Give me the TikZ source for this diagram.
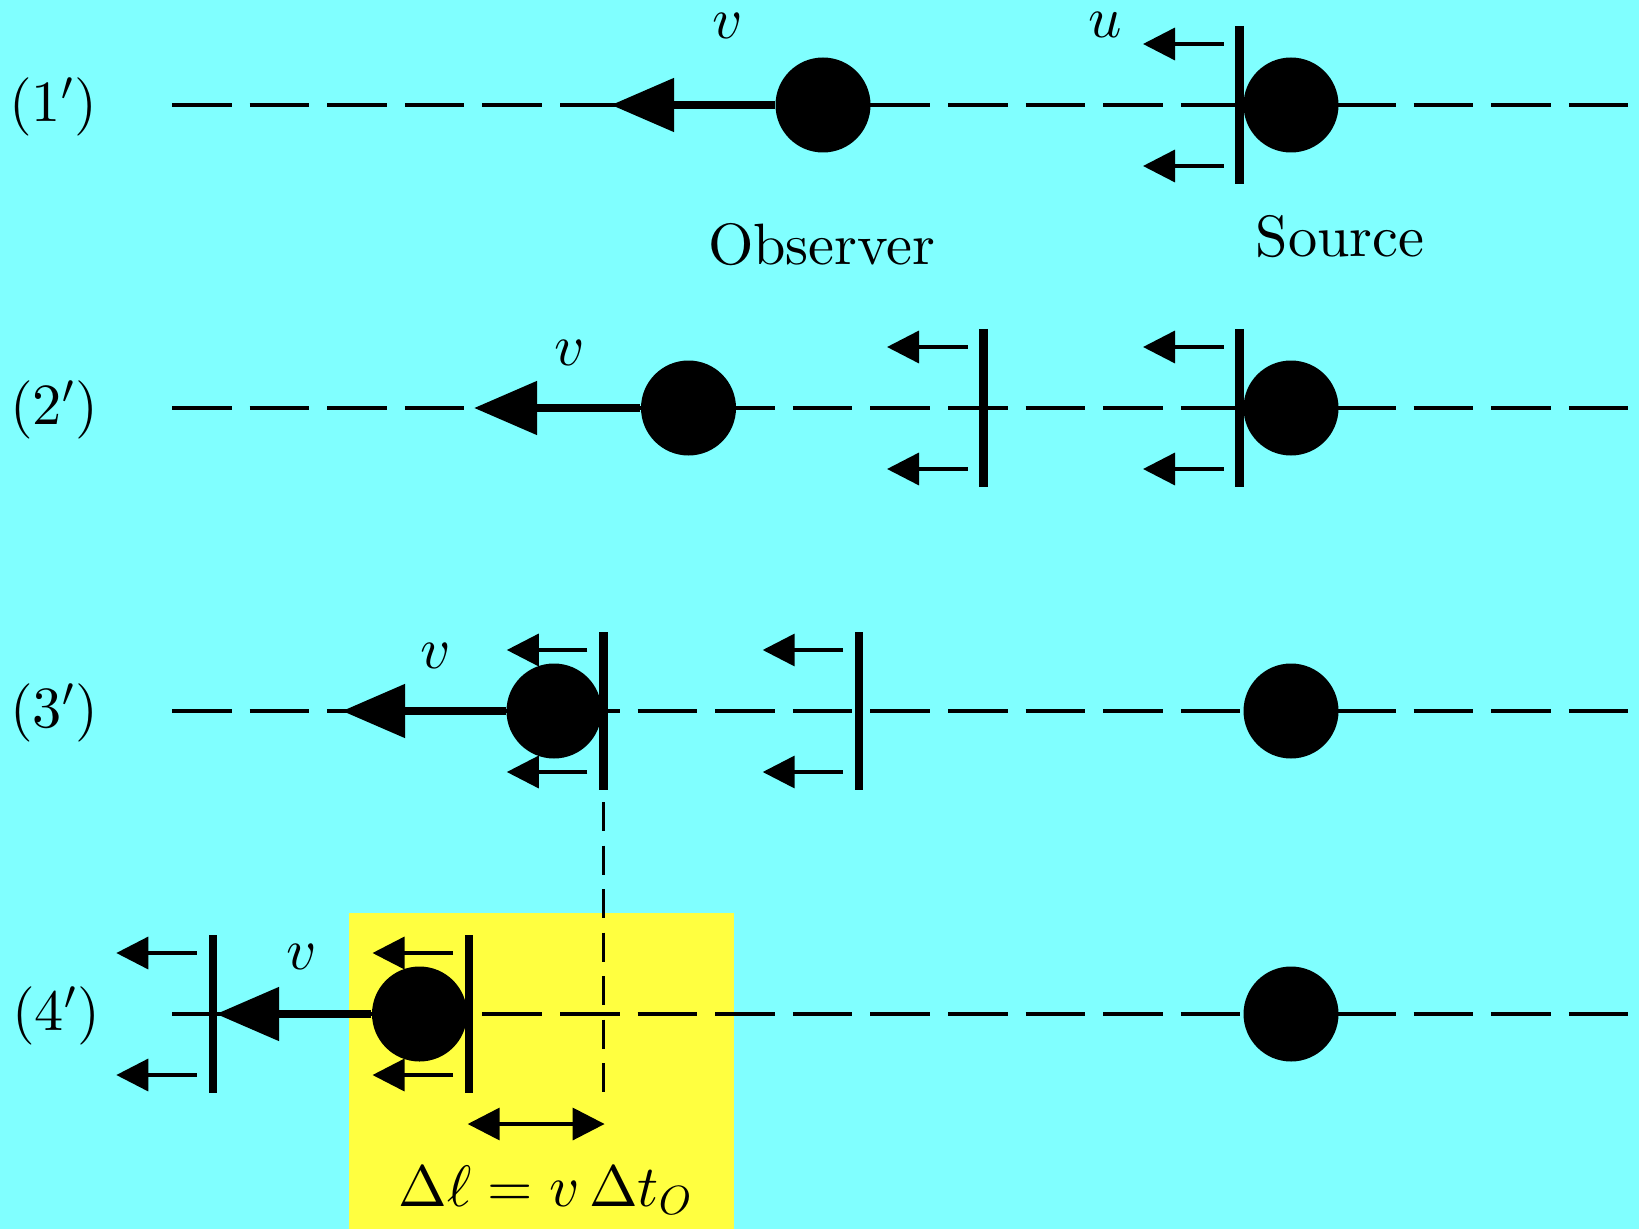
\documentclass[tikz,border=0pt]{standalone}
\usepackage{tikz}
\usetikzlibrary{calc,arrows.meta}
\DeclareFontShape{OT1}{cmr}{m}{n}{<->cmr10}{}
\DeclareFontShape{OML}{cmm}{m}{it}{<->cmmi10}{}
\DeclareFontShape{OMS}{cmsy}{m}{n}{<->cmsy10}{}
\definecolor{fond}{RGB}{128,255,255}
\definecolor{jaune}{RGB}{255,255,64}
\newcommand{\front}[3]{\coordinate (#1) at (#2, #3);
\draw[barre] ($(#1)+(0,-79)$) -- ($(#1)+(0,79)$);
\draw[petite] ($(#1)+(-16,-61)$) -- ($(#1)+(-96.5,-61)$);
\draw[petite] ($(#1)+(-16,61)$) -- ($(#1)+(-96.5,61)$)}

\begin{document}
\begin{tikzpicture}[x=0.1mm, y=-0.1mm,
                every node/.style={inner sep=1pt, font=\fontencoding{OT1}\fontfamily{cmr}\fontsize{16.6}{20}\selectfont},
                point/.style={circle, fill, inner sep=0pt, minimum size=9.5mm},
                axe/.style={line width=1pt, dash pattern=on 5.96mm off 1.8mm},
                fleche/.style={line width=2.3pt, -{Triangle[length=6.3mm, width=5.2mm]}},
                petite/.style={line width=1pt, -{Triangle[length=3.2mm, width=3.2mm]}},
                cote/.style={line width=1pt, {Triangle[length=3.2mm, width=3.2mm]}-{Triangle[length=3.2mm, width=3.2mm]}},
                barre/.style={line width=2.4pt},
                repere/.style={line width=1pt, dash pattern=on 2.9mm off 1.45mm}]
                \fill[fond] (0,0) rectangle (1639,1229);
                \fill[jaune] (348.7,913.3) rectangle (733.5,1229);

                \draw[axe] (172,105) -- (1630,105);
                \draw[axe] (172,408) -- (1630,408);
                \draw[axe] (172,711) -- (1630,711);
                \draw[axe] (172,1014) -- (1630,1014);

                \node (l1) at (53,107) {$(1')$};
                \node (l2) at (54,410) {$(2')$};
                \node (l3) at (54,713) {$(3')$};
                \node (l4) at (56,1016) {$(4')$};

                \node[point] (o1) at (823,105) {};
                \node[point] (o2) at (688.5,408) {};
                \node[point] (o3) at (554,711) {};
                \node[point] (o4) at (419.5,1014) {};
                \node[point] (s1) at (1291,105) {};
                \node[point] (s2) at (1291,408) {};
                \node[point] (s3) at (1291,711) {};
                \node[point] (s4) at (1291,1014) {};

                \coordinate (t1) at (611,105);
                \coordinate (t2) at (474,408);
                \coordinate (t3) at (342,711);
                \coordinate (t4) at (216,1014);
                \draw[fleche] (o1) -- (t1);
                \draw[fleche] (o2) -- (t2);
                \draw[fleche] (o3) -- (t3);
                \draw[fleche] (o4) -- (t4);

                \front{f1}{1239.5}{105};
                \front{f2a}{983.5}{408};
                \front{f2b}{1239.5}{408};
                \front{f3a}{603.3}{711};
                \front{f3b}{859.2}{711};
                \front{f4a}{212.8}{1014};
                \front{f4b}{469}{1014};

                \node (v1) at (727.6,26) {$v$};
                \node (v2) at (569.5,352.5) {$v$};
                \node (v3) at (436,656) {$v$};
                \node (v4) at (301.7,957) {$v$};
                \node (u) at (1105,25) {$u$};

                \node[anchor=base] (obs) at (822,265) {Observer};
                \node[anchor=base] (src) at (1340,257) {Source};

                \coordinate (g1) at (603.3,802);
                \coordinate (g2) at (603.3,1093);
                \draw[repere] (g1) -- (g2);
                \coordinate (c1) at (467.7,1124);
                \coordinate (c2) at (604.6,1124);
                \draw[cote] (c1) -- (c2);
                \node[anchor=base] (dl) at (545.7,1206) {$\Delta\ell = v\,\Delta t_O$};
            \end{tikzpicture}
\end{document}
